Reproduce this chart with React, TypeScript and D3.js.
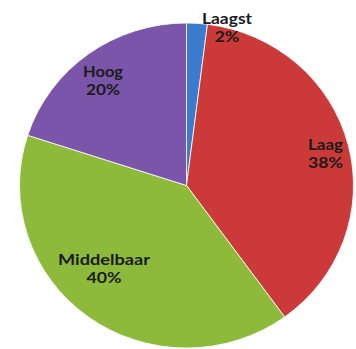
import React from "react";
import * as d3 from "d3";

const categories = ["Laagst", "Laag", "Middelbaar", "Hoog"];
const values = [2, 38, 40, 20];
const colors = ["#3C7CCF", "#CB3A39", "#8EBA3C", "#7A55A9"];

const W = 356;
const H = 349;
const CX = 186.5;
const CY = 185.5;
const R = 162.5;
const SX = 167 / 162.5;

// label layout: center x, first baseline y, name width, pct width
const labelLayout = [
  { x: 227, y: 24, w1: 50, w2: 25 },
  { x: 325.5, y: 150, w1: 35, w2: 35 },
  { x: 104, y: 265, w1: 92, w2: 35 },
  { x: 103, y: 77, w1: 40, w2: 34 },
];

export default function App() {
  const total = d3.sum(values);
  const pie = d3.pie<number>().sort(null).value((d) => d);
  const arcs = pie(values);
  const arc = d3.arc<d3.PieArcDatum<number>>().innerRadius(0).outerRadius(R);

  return (
    <svg
      width={W}
      height={H}
      style={{ position: "fixed", left: 0, top: 0, background: "#fff" }}
    >
      <g transform={`translate(${CX},${CY}) scale(${SX},1)`}>
        {arcs.map((a, i) => (
          <path
            key={categories[i]}
            d={arc(a) || ""}
            fill={colors[i]}
            stroke="#ffffff"
            strokeWidth={0.8}
          />
        ))}
      </g>
      {arcs.map((a, i) => {
        const L = labelLayout[i];
        const pct = Math.round((values[i] / total) * 100) + "%";
        return (
          <g
            key={"l" + i}
            fontFamily="Lato, 'Open Sans', sans-serif"
            fontWeight="bold"
            fontSize={16}
            fill="#1b1b1b"
            textAnchor="middle"
          >
            <text
              x={L.x}
              y={L.y}
              textLength={L.w1}
              lengthAdjust="spacingAndGlyphs"
            >
              {categories[i]}
            </text>
            <text
              x={L.x}
              y={L.y + 18}
              textLength={L.w2}
              lengthAdjust="spacingAndGlyphs"
            >
              {pct}
            </text>
          </g>
        );
      })}
    </svg>
  );
}
